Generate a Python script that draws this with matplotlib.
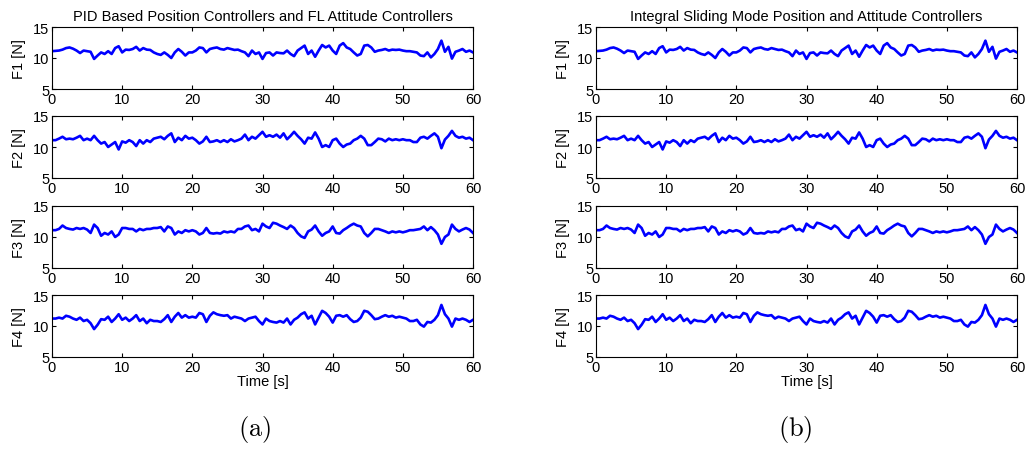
import numpy as np
import matplotlib
matplotlib.use("Agg")
import matplotlib.pyplot as plt

plt.rcParams['font.family'] = ['Liberation Sans', 'DejaVu Sans']
plt.rcParams['mathtext.fontset'] = 'cm'

# time grid, 0.5 s steps
t = np.arange(0, 60.5, 0.5)

# rotor thrusts
pid_f1 = [11.1, 11.15, 11.2, 11.35, 11.6, 11.7, 11.5, 11.2, 10.8, 11.2,
          11.1, 11.0, 9.85, 10.4, 10.9, 10.65, 11.1, 10.65, 11.6, 11.9,
          10.9, 11.35, 11.3, 11.45, 11.8, 11.2, 11.6, 11.35, 11.3, 10.9,
          10.65, 10.5, 10.9, 10.5, 10.0, 10.9, 11.45, 11.0, 10.4, 10.9,
          10.9, 11.2, 11.7, 11.6, 10.9, 11.45, 11.6, 11.7, 11.45, 11.35,
          11.6, 11.45, 11.3, 11.35, 11.1, 10.9, 10.3, 11.2, 10.65, 10.9,
          9.85, 10.8, 10.9, 10.4, 10.9, 10.8, 10.75, 11.2, 10.65, 10.3,
          11.2, 11.6, 12.0, 10.65, 11.2, 10.2, 11.2, 12.1, 11.7, 12.0,
          11.2, 10.65, 12.0, 12.4, 11.7, 11.45, 10.9, 10.4, 10.65, 12.0,
          12.1, 11.7, 11.0, 11.2, 11.3, 11.45, 11.2, 11.35, 11.3, 11.35,
          11.2, 11.1, 11.1, 11.0, 10.9, 10.4, 10.3, 10.9, 10.1, 10.65,
          11.45, 12.8, 11.0, 11.8, 9.9, 11.0, 11.2, 11.45, 11.0, 11.2,
          10.9]
pid_f2 = [11.1, 11.1, 11.35, 11.65, 11.25, 11.35, 11.25, 11.5, 11.8, 11.1,
          11.35, 11.1, 11.8, 11.1, 10.55, 10.8, 10.0, 10.4, 10.8, 9.6,
          10.9, 10.7, 11.1, 10.8, 10.15, 11.1, 10.55, 11.1, 10.8, 11.35,
          11.5, 11.65, 11.25, 11.8, 12.2, 10.8, 11.5, 11.1, 11.8, 11.35,
          11.5, 11.1, 10.55, 10.9, 11.65, 10.8, 10.9, 11.1, 10.8, 11.1,
          10.8, 11.25, 10.9, 11.1, 11.35, 12.0, 11.1, 11.65, 11.35, 11.9,
          12.45, 11.65, 11.9, 11.65, 12.0, 11.5, 12.2, 11.25, 11.8, 12.45,
          11.8, 11.25, 10.55, 11.5, 11.35, 12.35, 11.35, 10.0, 10.3, 10.0,
          11.1, 11.35, 10.55, 10.0, 10.4, 10.55, 11.1, 11.35, 11.8, 11.35,
          10.3, 10.3, 10.8, 11.35, 11.25, 10.9, 11.35, 11.1, 11.25, 11.1,
          11.25, 11.1, 11.1, 10.8, 10.8, 11.5, 11.65, 11.35, 11.8, 12.2,
          11.65, 9.8, 11.2, 11.8, 12.6, 11.8, 11.5, 11.65, 11.35, 11.5,
          11.1]
pid_f3 = [11.1, 11.1, 11.3, 11.85, 11.45, 11.3, 11.2, 11.45, 11.3, 11.45,
          11.2, 10.65, 12.0, 11.45, 10.2, 10.65, 10.4, 10.9, 10.0, 10.4,
          11.45, 11.45, 11.3, 11.3, 10.9, 11.3, 11.1, 11.3, 11.3, 11.45,
          11.45, 11.6, 10.9, 11.7, 11.45, 10.4, 10.9, 10.65, 11.1, 10.9,
          11.1, 10.9, 10.4, 10.65, 11.45, 10.65, 10.55, 10.65, 10.55, 10.9,
          10.75, 10.9, 10.75, 11.3, 11.3, 11.7, 11.85, 11.1, 11.3, 10.9,
          12.15, 11.7, 11.45, 12.3, 12.15, 11.85, 11.6, 11.3, 11.85, 11.45,
          10.65, 10.1, 9.85, 10.9, 11.2, 11.85, 10.9, 10.2, 10.65, 10.9,
          11.7, 10.65, 10.55, 11.1, 11.45, 11.85, 12.15, 11.85, 11.7, 10.65,
          10.1, 10.65, 11.3, 11.3, 11.1, 10.9, 10.65, 10.9, 10.75, 10.9,
          10.75, 10.9, 11.1, 11.1, 11.2, 11.3, 11.7, 11.1, 11.6, 11.1,
          10.4, 8.9, 10.0, 10.4, 12.0, 11.3, 10.9, 11.2, 11.45, 11.2,
          10.65]
pid_f4 = [11.2, 11.2, 11.35, 11.2, 11.65, 11.5, 11.2, 11.0, 11.35, 10.8,
          11.0, 10.45, 9.5, 10.2, 11.1, 11.0, 11.5, 10.65, 11.2, 11.9,
          11.0, 11.35, 10.8, 11.2, 11.75, 10.8, 11.2, 10.45, 11.0, 10.8,
          10.8, 10.65, 11.1, 11.75, 10.65, 11.5, 12.1, 11.35, 11.75, 11.35,
          11.5, 11.35, 12.1, 11.9, 10.65, 11.65, 12.2, 11.9, 11.75, 11.65,
          11.75, 11.2, 11.5, 11.35, 11.2, 10.8, 11.2, 11.35, 11.5, 10.8,
          10.25, 11.2, 10.8, 10.65, 10.55, 10.8, 10.55, 11.2, 10.25, 11.0,
          11.35, 11.9, 12.2, 11.2, 11.65, 10.25, 11.35, 12.45, 12.1, 11.5,
          10.55, 11.65, 11.75, 11.5, 11.75, 11.1, 10.65, 10.8, 11.35, 12.45,
          12.3, 11.75, 11.1, 11.2, 11.5, 11.75, 11.5, 11.65, 11.35, 11.5,
          11.35, 11.2, 10.8, 10.8, 11.0, 10.25, 9.9, 10.65, 10.55, 11.0,
          11.75, 13.4, 11.9, 11.2, 9.9, 11.2, 11.0, 11.2, 11.0, 10.65,
          11.0]

# panel (b) traces match panel (a) to within the pixel resolution
ism_f1 = list(pid_f1)
ism_f2 = list(pid_f2)
ism_f3 = list(pid_f3)
ism_f4 = list(pid_f4)

titles = ['PID Based Position Controllers and FL Attitude Controllers',
          'Integral Sliding Mode Position and Attitude Controllers']
ylabels = ['F1 [N]', 'F2 [N]', 'F3 [N]', 'F4 [N]']
panels = [[pid_f1, pid_f2, pid_f3, pid_f4],
          [ism_f1, ism_f2, ism_f3, ism_f4]]

fig = plt.figure(figsize=(10.31, 4.52), dpi=100)

lefts = [52 / 1031, 596 / 1031]
width = 421 / 1031
row_bottoms = [90, 179, 269, 358]   # px from top
height = 62 / 452

for p, series in enumerate(panels):
    for r, y in enumerate(series):
        ax = fig.add_axes([lefts[p], 1 - row_bottoms[r] / 452, width, height])
        ax.plot(t, y, color='#0000ff', lw=1.9)
        ax.set_xlim(0, 60)
        ax.set_ylim(5, 15)
        ax.set_xticks(range(0, 61, 10))
        ax.set_yticks([5, 10, 15])
        ax.tick_params(direction='in', top=True, right=True, length=3,
                       labelsize=10.5, pad=2, width=0.8)
        for s in ax.spines.values():
            s.set_linewidth(0.8)
        ax.set_ylabel(ylabels[r], fontsize=10.5, labelpad=5)
        if r == 0:
            ax.set_title(titles[p], fontsize=10.5, pad=5)
        if r == 3:
            ax.set_xlabel('Time [s]', fontsize=10.5, labelpad=0)

fig.text(255 / 1031, 1 - 430 / 452, r'$\mathrm{(a)}$', fontsize=19,
         ha='center', va='center')
fig.text(795 / 1031, 1 - 430 / 452, r'$\mathrm{(b)}$', fontsize=19,
         ha='center', va='center')

fig.savefig('out.png', dpi=100)
